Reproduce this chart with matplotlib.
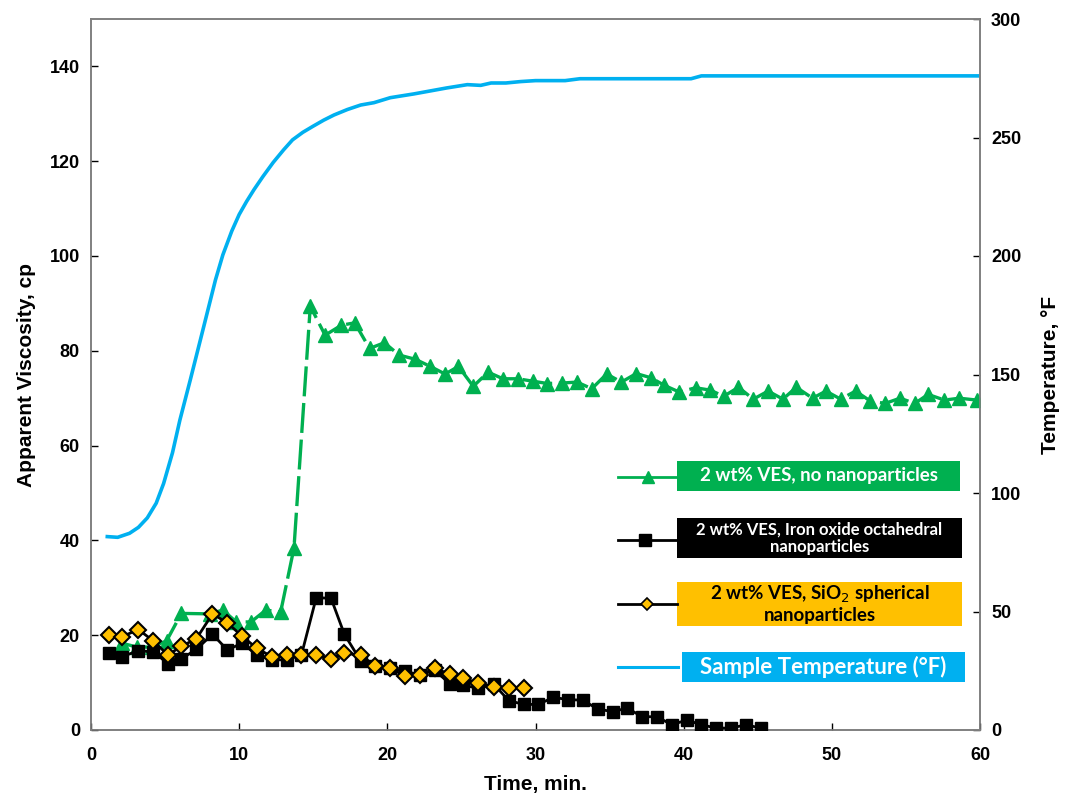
import matplotlib
matplotlib.use("Agg")
import matplotlib.pyplot as plt
from matplotlib.lines import Line2D
from matplotlib.patches import Rectangle

# 2 wt% VES, no nanoparticles
time_ves = [2.1, 3.1, 4.1, 5.1, 6.1, 8.0, 8.9, 9.8, 10.8, 11.8, 12.8, 13.7, 14.8,
            15.8, 16.9, 17.8, 18.8, 19.8, 20.8, 21.9, 22.9, 23.9, 24.8, 25.8, 26.8,
            27.8, 28.8, 29.8, 30.8, 31.8, 32.8, 33.8, 34.8, 35.8, 36.8, 37.8, 38.7,
            39.7, 40.8, 41.8, 42.7, 43.7, 44.7, 45.7, 46.7, 47.6, 48.7, 49.6, 50.6,
            51.6, 52.6, 53.6, 54.6, 55.6, 56.5, 57.6, 58.6, 59.8]
visc_ves = [18.3, 17.5, 17.5, 18.8, 24.6, 24.5, 25.3, 22.8, 22.8, 25.3, 24.9, 38.4, 89.4,
            83.3, 85.4, 85.9, 80.5, 81.7, 79.1, 78.2, 76.7, 75.1, 76.7, 72.5, 75.5,
            74.1, 74.1, 73.6, 73.1, 73.2, 73.4, 72.0, 75.1, 73.4, 75.2, 74.3, 72.7,
            71.3, 72.2, 71.7, 70.4, 72.3, 69.8, 71.5, 69.8, 72.3, 70.0, 71.5, 69.8,
            71.5, 69.4, 68.9, 70.0, 68.9, 70.8, 69.6, 70.0, 69.6]

# 2 wt% VES + iron oxide octahedral nanoparticles
time_fe = [1.2, 2.1, 3.2, 4.2, 5.2, 6.1, 7.1, 8.2, 9.2, 10.2, 11.2, 12.2, 13.2, 14.2,
           15.2, 16.2, 17.1, 18.2, 19.2, 20.2, 21.2, 22.2, 23.2, 24.2, 25.1, 26.1,
           27.2, 28.2, 29.2, 30.2, 31.2, 32.2, 33.2, 34.2, 35.2, 36.2, 37.2, 38.2,
           39.2, 40.2, 41.2, 42.2, 43.2, 44.2, 45.2]
visc_fe = [16.3, 15.5, 16.7, 16.5, 14.0, 15.0, 17.0, 20.2, 16.9, 18.3, 15.8, 14.8, 14.8,
           15.8, 27.9, 27.8, 20.2, 14.6, 13.5, 13.0, 12.4, 11.6, 12.6, 9.8, 9.5, 8.8,
           9.6, 6.2, 5.4, 5.4, 6.9, 6.4, 6.3, 4.4, 3.9, 4.6, 2.8, 2.8, 1.1, 2.1, 1.1,
           0.4, 0.4, 1.1, 0.4]

# 2 wt% VES + SiO2 spherical nanoparticles
time_si = time_fe[:29]
visc_si = [20.0, 19.7, 21.2, 18.8, 15.8, 17.7, 19.2, 24.5, 22.6, 19.8, 17.2, 15.5, 15.8,
           15.8, 15.8, 15.0, 16.2, 15.8, 13.5, 13.0, 11.4, 11.6, 13.0, 11.8, 10.9,
           10.0, 9.1, 8.9, 8.8]

# sample temperature, F
time_temp = [1.1, 1.8, 2.6, 3.2, 3.8, 4.4, 4.9, 5.5, 6.0, 6.7, 7.6, 8.4, 8.9, 9.5, 10.0,
             10.5, 11.0, 11.6, 12.3, 13.0, 13.6, 14.3, 15.0, 15.7, 16.4, 17.3, 18.2,
             19.1, 20.2, 21.8, 24.0, 25.4, 26.3, 27.0, 28.0, 29.0, 30.0, 32.0, 33.0,
             40.5, 41.2, 60.0]
temp_f = [81.6, 81.3, 83.0, 85.5, 89.5, 95.7, 104.0, 117.0, 130.8, 147.7, 170.0, 189.9,
          200.5, 210.5, 217.5, 223.0, 228.0, 233.5, 239.5, 244.8, 249.0, 252.2, 254.8,
          257.3, 259.5, 261.8, 263.7, 264.7, 266.8, 268.4, 270.9, 272.3, 272.0, 273.0,
          273.0, 273.6, 274.0, 274.0, 274.8, 274.8, 276.0, 276.0]

GREEN = '#00B050'
ORANGE = '#FFC000'
BLUE = '#00B0F0'
GRAY = '#808080'

plt.rcParams['font.family'] = ['Liberation Sans', 'DejaVu Sans']

W, H = 1068, 799
fig = plt.figure(figsize=(W / 100, H / 100), dpi=100)
ax = fig.add_axes([91 / W, 1 - 730 / H, (980 - 91) / W, (730 - 19) / H])
ax2 = ax.twinx()

ax2.plot(time_temp, temp_f, color=BLUE, lw=2.6, zorder=1)
ax.plot(time_ves, visc_ves, color=GREEN, lw=2.4, ls=(0, (9, 2)), marker='^',
        markersize=10, zorder=2)
ax.plot(time_fe, visc_fe, color='black', lw=2.0, marker='s', markersize=9, zorder=3)
ax.plot(time_si, visc_si, color='black', lw=2.0, marker='D', markersize=8.5,
        markerfacecolor=ORANGE, markeredgecolor='black', markeredgewidth=1.5, zorder=4)

# keep viscosity markers above the temperature curve
ax.set_zorder(ax2.get_zorder() + 1)
ax.patch.set_visible(False)

ax.set_xlim(0, 60)
ax.set_ylim(0, 150)
ax2.set_ylim(0, 300)
ax.set_xticks(range(0, 61, 10))
ax.set_yticks(range(0, 141, 20))
ax2.set_yticks(range(0, 301, 50))

for a in (ax, ax2):
    for s in a.spines.values():
        s.set_color(GRAY)
        s.set_linewidth(1.2)
    a.tick_params(direction='in', length=5, width=1, colors='black', labelsize=13, pad=8)
    for lab in a.get_xticklabels() + a.get_yticklabels():
        lab.set_fontweight('bold')
ax.tick_params(axis='x', pad=12)

ax.set_xlabel('Time, min.', fontsize=15, fontweight='bold', labelpad=8)
ax.set_ylabel('Apparent Viscosity, cp', fontsize=15, fontweight='bold', labelpad=10)
ax2.set_ylabel('Temperature, \u00b0F', fontsize=15, fontweight='bold', labelpad=14)


# legend drawn as coloured boxes, placed in figure pixel coordinates
def fx(px):
    return px / W


def fy(py):
    return 1 - py / H


def add_box(x0, x1, y0, y1, color):
    fig.add_artist(Rectangle((fx(x0), fy(y1)), fx(x1) - fx(x0), fy(y0) - fy(y1),
                             transform=fig.transFigure, facecolor=color,
                             edgecolor='none'))


add_box(677, 960, 461, 491, GREEN)
add_box(677, 962, 518, 558, 'black')
add_box(677, 962, 582, 626, ORANGE)
add_box(682, 965, 652, 682, BLUE)

fig.add_artist(Line2D([fx(618), fx(676)], [fy(477), fy(477)], transform=fig.transFigure,
                      color=GREEN, lw=2))
fig.add_artist(Line2D([fx(648)], [fy(477)], transform=fig.transFigure, linestyle='none',
                      marker='^', markersize=9, color=GREEN))
fig.add_artist(Line2D([fx(618), fx(677)], [fy(540), fy(540)], transform=fig.transFigure,
                      color='black', lw=2))
fig.add_artist(Line2D([fx(645)], [fy(540)], transform=fig.transFigure, linestyle='none',
                      marker='s', markersize=8, color='black'))
fig.add_artist(Line2D([fx(618), fx(677)], [fy(604), fy(604)], transform=fig.transFigure,
                      color='black', lw=2))
fig.add_artist(Line2D([fx(647)], [fy(604)], transform=fig.transFigure, linestyle='none',
                      marker='D', markersize=6, markerfacecolor=ORANGE,
                      markeredgecolor='black', markeredgewidth=1.2))
fig.add_artist(Line2D([fx(618), fx(678)], [fy(667), fy(667)], transform=fig.transFigure,
                      color=BLUE, lw=2.2))

lfont = ['Lato', 'DejaVu Sans']
fig.text(fx(818.5), fy(476), '2 wt% VES, no nanoparticles', color='white', fontsize=13.5,
         fontweight='bold', family=lfont, ha='center', va='center')
fig.text(fx(819.5), fy(538), '2 wt% VES, Iron oxide octahedral\nnanoparticles',
         color='white', fontsize=12, fontweight='bold', family=lfont, ha='center',
         va='center', linespacing=1.1)
fig.text(fx(819.5), fy(604), '2 wt% VES, SiO$_2$ spherical\nnanoparticles',
         color='black', fontsize=13.5, fontweight='bold', family=lfont, ha='center',
         va='center', linespacing=1.1)
fig.text(fx(823.5), fy(667), 'Sample Temperature (\u00b0F)', color='white', fontsize=16,
         fontweight='bold', family=lfont, ha='center', va='center')

fig.savefig('out.png', dpi=100)
